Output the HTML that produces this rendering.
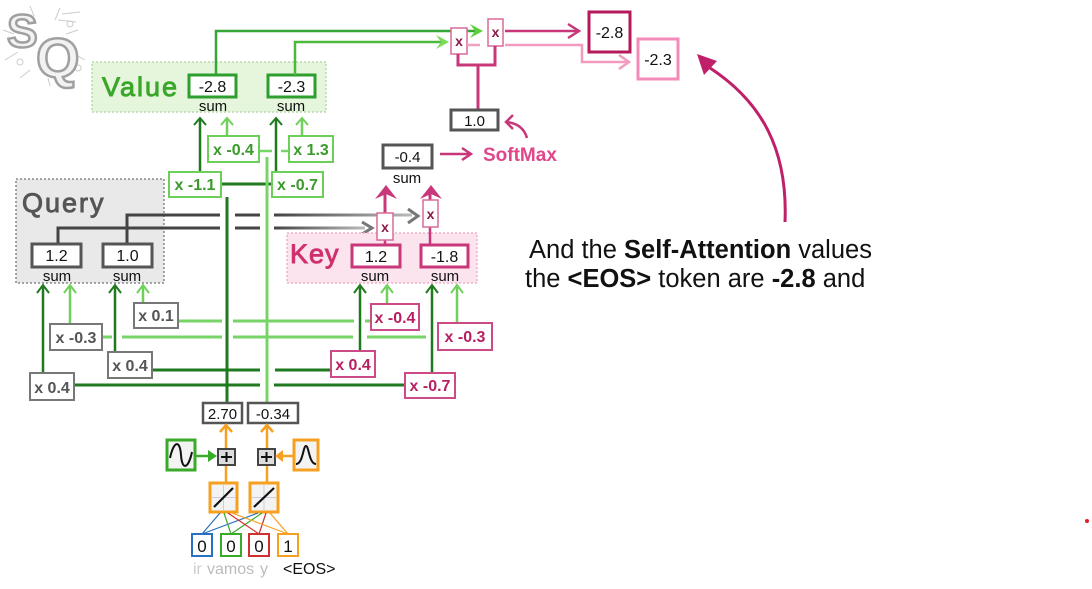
<!DOCTYPE html>
<html><head><meta charset="utf-8"><style>
html,body{margin:0;padding:0;background:#fff;}
svg{display:block;}
text{font-family:"Liberation Sans",Arial,sans-serif;}
</style></head><body>
<svg width="1092" height="589" viewBox="0 0 1092 589" xmlns="http://www.w3.org/2000/svg">
<defs>
<linearGradient id="gf1" gradientUnits="userSpaceOnUse" x1="274" y1="0" x2="412" y2="0"><stop offset="0" stop-color="#444"/><stop offset="1" stop-color="#bbb"/></linearGradient>
<linearGradient id="gf2" gradientUnits="userSpaceOnUse" x1="274" y1="0" x2="365" y2="0"><stop offset="0" stop-color="#444"/><stop offset="1" stop-color="#bbb"/></linearGradient>
<clipPath id="tc"><rect x="500" y="220" width="374" height="80"/></clipPath>
</defs>
<rect width="1092" height="589" fill="#fff"/>

<!-- Logo -->
<g stroke="#ccc" stroke-width="1" fill="none">
<path d="M3,30 L14,34 M5,60 L18,52 M30,6 L34,16 M60,8 L55,20 M78,30 L66,34 M85,60 L78,56 M20,78 L30,70 M50,86 L48,78 M62,14 L80,12 M58,20 L76,22"/>
<circle cx="20" cy="62" r="3"/><circle cx="70" cy="24" r="3"/><circle cx="78" cy="68" r="3"/>
</g>
<text x="7" y="47" font-size="46" font-weight="bold" fill="#f2f2f2" stroke="#a0a0a0" stroke-width="2.5">S</text>
<text x="36" y="77" font-size="56" font-weight="bold" fill="#f2f2f2" stroke="#a0a0a0" stroke-width="2.5">Q</text>

<!-- Value region -->
<rect x="92" y="62" width="234" height="50" fill="#e6f6dd" stroke="#b9d9a9" stroke-width="1.5" stroke-dasharray="2,2"/>
<text x="102" y="96" font-size="27" fill="#3aa62a" stroke="#3aa62a" stroke-width="0.9" letter-spacing="2">Value</text>
<rect x="189" y="75" width="47" height="22" fill="#fff" stroke="#2e9e2e" stroke-width="3"/>
<text x="212.5" y="92" font-size="16" text-anchor="middle" fill="#111">-2.8</text>
<text x="213" y="111" font-size="15" text-anchor="middle" fill="#111">sum</text>
<rect x="268" y="75" width="47" height="22" fill="#fff" stroke="#2e9e2e" stroke-width="3"/>
<text x="291.5" y="92" font-size="16" text-anchor="middle" fill="#111">-2.3</text>
<text x="291" y="111" font-size="15" text-anchor="middle" fill="#111">sum</text>

<!-- green lines to top multipliers -->
<path d="M216,75 V31 H478" stroke="#36a636" stroke-width="2.5" fill="none"/>
<path d="M295,75 V42 H446" stroke="#4cb93c" stroke-width="2.5" fill="none"/>
<polygon points="470,24 483,31 470,38 475,31" fill="#5ccf3c"/>
<polygon points="436,35 449,42 436,49 441,42" fill="#7bdc5c"/>

<!-- top multipliers -->
<rect x="451" y="28" width="16" height="26" fill="#fff" stroke="#d86a9a" stroke-width="1.5"/>
<text x="459" y="46" font-size="14" font-weight="bold" text-anchor="middle" fill="#8b1a4a">x</text>
<rect x="488" y="19" width="15" height="27" fill="#fff" stroke="#d86a9a" stroke-width="1.5"/>
<text x="495.5" y="37" font-size="14" font-weight="bold" text-anchor="middle" fill="#8b1a4a">x</text>
<path d="M467,45 H480" stroke="#f0a0c0" stroke-width="2.5"/>
<path d="M458,54 V65 H495 V46 M478,65 V110" stroke="#c8377a" stroke-width="3" fill="none"/>
<rect x="451" y="110" width="47" height="20" fill="#fff" stroke="#555" stroke-width="3"/>
<text x="474.5" y="126" font-size="15" text-anchor="middle" fill="#111">1.0</text>

<!-- outputs -->
<path d="M505,31 H578" stroke="#c8377a" stroke-width="2.5"/>
<polyline points="568,24 579,31 568,38" stroke="#c8377a" stroke-width="2.5" fill="none"/>
<rect x="589" y="12" width="41" height="40" fill="#fff" stroke="#b5195b" stroke-width="3"/>
<text x="609.5" y="38" font-size="16" text-anchor="middle" fill="#111">-2.8</text>
<path d="M505,45 H582 V62 H628" stroke="#f39ac0" stroke-width="2.5" fill="none"/>
<polyline points="619,55 629,62 619,69" stroke="#f39ac0" stroke-width="2.5" fill="none"/>
<rect x="638" y="39" width="40" height="40" fill="#fff" stroke="#f48ab8" stroke-width="3"/>
<text x="658" y="65" font-size="16" text-anchor="middle" fill="#111">-2.3</text>

<!-- big arrow -->
<path d="M785,222 C788,150 762,102 710,68" stroke="#c0206a" stroke-width="3" fill="none"/>
<polygon points="697,54 717,61 704,75" fill="#c0206a"/>

<!-- SoftMax -->
<rect x="383" y="145" width="49" height="23" fill="#fff" stroke="#555" stroke-width="3"/>
<text x="407.5" y="162" font-size="15" text-anchor="middle" fill="#111">-0.4</text>
<text x="407" y="183" font-size="15" text-anchor="middle" fill="#111">sum</text>
<path d="M440,154 H470" stroke="#c8377a" stroke-width="2.5"/>
<polyline points="462,148 471,154 462,160" stroke="#c8377a" stroke-width="2.5" fill="none"/>
<text x="483" y="161" font-size="19" font-weight="bold" fill="#e0468a">SoftMax</text>
<path d="M527,138 Q523,124 507,122" stroke="#c8377a" stroke-width="2.5" fill="none"/>
<polyline points="513,115 506,122 513,129" stroke="#c8377a" stroke-width="2.5" fill="none"/>

<!-- Value weights -->
<path d="M200,172 V119 M276,172 V119" stroke="#1f7a1f" stroke-width="2.5"/>
<path d="M227,136 V119 M302,136 V119" stroke="#6fd05a" stroke-width="2.5"/>
<polyline points="194,125 200,118 206,125" stroke="#1f7a1f" stroke-width="2" fill="none"/>
<polyline points="270,125 276,118 282,125" stroke="#1f7a1f" stroke-width="2" fill="none"/>
<polyline points="221,125 227,118 233,125" stroke="#6fd05a" stroke-width="2" fill="none"/>
<polyline points="296,125 302,118 308,125" stroke="#6fd05a" stroke-width="2" fill="none"/>
<path d="M259,151 H272 M281,151 H289" stroke="#77d466" stroke-width="2.5"/>
<path d="M221,184 H272" stroke="#1f7a1f" stroke-width="3"/>
<rect x="208" y="136" width="51" height="26" fill="#fff" stroke="#6ccf5a" stroke-width="2"/>
<text x="233.5" y="155" font-size="16" font-weight="bold" text-anchor="middle" fill="#3a9a2a">x -0.4</text>
<rect x="289" y="136" width="44" height="26" fill="#fff" stroke="#6ccf5a" stroke-width="2"/>
<text x="311" y="155" font-size="16" font-weight="bold" text-anchor="middle" fill="#3a9a2a">x 1.3</text>
<rect x="169" y="172" width="52" height="25" fill="#fff" stroke="#6ccf5a" stroke-width="2"/>
<text x="195" y="190" font-size="16" font-weight="bold" text-anchor="middle" fill="#3a9a2a">x -1.1</text>
<rect x="272" y="172" width="51" height="25" fill="#fff" stroke="#6ccf5a" stroke-width="2"/>
<text x="297.5" y="190" font-size="16" font-weight="bold" text-anchor="middle" fill="#3a9a2a">x -0.7</text>

<!-- main verticals -->
<path d="M227,197 V403" stroke="#1f7a1f" stroke-width="3"/>
<path d="M267,157 V403" stroke="#77d466" stroke-width="3"/>

<!-- Query region -->
<rect x="16" y="179" width="148" height="104" fill="#e9e9e9" stroke="#888" stroke-width="1.5" stroke-dasharray="2,2"/>
<text x="22" y="212" font-size="27" fill="#555" stroke="#555" stroke-width="0.9" letter-spacing="2">Query</text>
<path d="M127,244 V215 H220 M235,215 H260" stroke="#444" stroke-width="3" fill="none"/>
<path d="M274,215 H412" stroke="url(#gf1)" stroke-width="3"/>
<polyline points="408,209 418,216 408,223" stroke="#777" stroke-width="3" fill="none"/>
<path d="M58,244 V228 H220 M235,228 H260" stroke="#444" stroke-width="3" fill="none"/>
<path d="M274,228 H365" stroke="url(#gf2)" stroke-width="3"/>
<polyline points="362,222 372,228 362,234" stroke="#777" stroke-width="3" fill="none"/>
<rect x="32" y="244" width="49" height="23" fill="#fff" stroke="#555" stroke-width="3"/>
<text x="56.5" y="261" font-size="16" text-anchor="middle" fill="#111">1.2</text>
<text x="57" y="281" font-size="15" text-anchor="middle" fill="#111">sum</text>
<rect x="103" y="244" width="49" height="23" fill="#fff" stroke="#555" stroke-width="3"/>
<text x="127.5" y="261" font-size="16" text-anchor="middle" fill="#111">1.0</text>
<text x="127" y="281" font-size="15" text-anchor="middle" fill="#111">sum</text>

<!-- Key region -->
<rect x="287" y="233" width="190" height="50" fill="#fbe4ee" stroke="#f0b0c8" stroke-width="1.5" stroke-dasharray="2,2"/>
<text x="290" y="263" font-size="27" fill="#d0306e" stroke="#d0306e" stroke-width="0.9" letter-spacing="1">Key</text>
<path d="M385,240 V245 M430,227 V245" stroke="#c8377a" stroke-width="2.5"/>
<path d="M385,213 V190 M430,200 V190" stroke="#c8377a" stroke-width="3"/>
<polygon points="375,199 386,185 397,199 386,194" fill="#c8377a"/>
<polygon points="420,199 431,185 442,199 431,194" fill="#c8377a"/>
<rect x="377" y="213" width="16" height="27" fill="#fff" stroke="#d86a9a" stroke-width="1.5"/>
<text x="385" y="232" font-size="14" font-weight="bold" text-anchor="middle" fill="#8b1a4a">x</text>
<rect x="423" y="200" width="15" height="27" fill="#fff" stroke="#d86a9a" stroke-width="1.5"/>
<text x="430.5" y="219" font-size="14" font-weight="bold" text-anchor="middle" fill="#8b1a4a">x</text>
<rect x="352" y="245" width="48" height="22" fill="#fff" stroke="#c8377a" stroke-width="3"/>
<text x="376" y="262" font-size="16" text-anchor="middle" fill="#111">1.2</text>
<text x="375" y="281" font-size="15" text-anchor="middle" fill="#111">sum</text>
<rect x="421" y="245" width="47" height="22" fill="#fff" stroke="#c8377a" stroke-width="3"/>
<text x="444.5" y="262" font-size="16" text-anchor="middle" fill="#111">-1.8</text>
<text x="445" y="281" font-size="15" text-anchor="middle" fill="#111">sum</text>

<!-- horizontal weight lines -->
<path d="M178,321 H222 M233,321 H354 M365,321 H371" stroke="#77d466" stroke-width="3"/>
<path d="M102,337 H112 M122,337 H222 M233,337 H353 M367,337 H426" stroke="#77d466" stroke-width="3"/>
<path d="M152,370 H260 M275,370 H331" stroke="#1f7a1f" stroke-width="3"/>
<path d="M74,385 H260 M274,385 H405" stroke="#1f7a1f" stroke-width="3"/>

<!-- Query weight arrows -->
<path d="M43,373 V287 M115,352 V287" stroke="#1f7a1f" stroke-width="2.5"/>
<path d="M70,324 V287 M143,303 V287" stroke="#6fd05a" stroke-width="2.5"/>
<polyline points="37,293 43,285 49,293" stroke="#1f7a1f" stroke-width="2" fill="none"/>
<polyline points="109,293 115,285 121,293" stroke="#1f7a1f" stroke-width="2" fill="none"/>
<polyline points="64,293 70,285 76,293" stroke="#6fd05a" stroke-width="2" fill="none"/>
<polyline points="137,293 143,285 149,293" stroke="#6fd05a" stroke-width="2" fill="none"/>

<!-- Key weight arrows -->
<path d="M360,351 V287 M432,373 V287" stroke="#1f7a1f" stroke-width="2.5"/>
<path d="M387,304 V287 M457,323 V287" stroke="#6fd05a" stroke-width="2.5"/>
<polyline points="354,293 360,285 366,293" stroke="#1f7a1f" stroke-width="2" fill="none"/>
<polyline points="426,293 432,285 438,293" stroke="#1f7a1f" stroke-width="2" fill="none"/>
<polyline points="381,293 387,285 393,293" stroke="#6fd05a" stroke-width="2" fill="none"/>
<polyline points="451,293 457,285 463,293" stroke="#6fd05a" stroke-width="2" fill="none"/>

<!-- Query weight boxes -->
<rect x="134" y="303" width="44" height="25" fill="#fff" stroke="#777" stroke-width="2"/>
<text x="156" y="321" font-size="16" font-weight="bold" text-anchor="middle" fill="#555">x 0.1</text>
<rect x="50" y="324" width="52" height="26" fill="#fff" stroke="#777" stroke-width="2"/>
<text x="76" y="343" font-size="16" font-weight="bold" text-anchor="middle" fill="#555">x -0.3</text>
<rect x="108" y="352" width="44" height="26" fill="#fff" stroke="#777" stroke-width="2"/>
<text x="130" y="371" font-size="16" font-weight="bold" text-anchor="middle" fill="#555">x 0.4</text>
<rect x="30" y="373" width="44" height="27" fill="#fff" stroke="#777" stroke-width="2"/>
<text x="52" y="393" font-size="16" font-weight="bold" text-anchor="middle" fill="#555">x 0.4</text>

<!-- Key weight boxes -->
<rect x="371" y="304" width="48" height="26" fill="#fff" stroke="#cc4a85" stroke-width="2"/>
<text x="395" y="323" font-size="16" font-weight="bold" text-anchor="middle" fill="#b81f60">x -0.4</text>
<rect x="438" y="323" width="54" height="27" fill="#fff" stroke="#cc4a85" stroke-width="2"/>
<text x="465" y="342" font-size="16" font-weight="bold" text-anchor="middle" fill="#b81f60">x -0.3</text>
<rect x="331" y="351" width="44" height="26" fill="#fff" stroke="#cc4a85" stroke-width="2"/>
<text x="353" y="370" font-size="16" font-weight="bold" text-anchor="middle" fill="#b81f60">x 0.4</text>
<rect x="405" y="373" width="50" height="25" fill="#fff" stroke="#cc4a85" stroke-width="2"/>
<text x="430" y="391" font-size="16" font-weight="bold" text-anchor="middle" fill="#b81f60">x -0.7</text>

<!-- bottom encodings -->
<rect x="203" y="403" width="39" height="20" fill="#fff" stroke="#555" stroke-width="2.5"/>
<text x="222.5" y="419" font-size="15" text-anchor="middle" fill="#111">2.70</text>
<rect x="248" y="403" width="50" height="20" fill="#fff" stroke="#555" stroke-width="2.5"/>
<text x="273" y="419" font-size="15" text-anchor="middle" fill="#111">-0.34</text>

<path d="M226,449 V426 M267,449 V426 M226,483 V465 M267,483 V465" stroke="#f5a020" stroke-width="2.5"/>
<polyline points="220,432 226,425 232,432" stroke="#f5a020" stroke-width="2.5" fill="none"/>
<polyline points="261,432 267,425 273,432" stroke="#f5a020" stroke-width="2.5" fill="none"/>

<rect x="218" y="449" width="17" height="16" fill="#ddd" stroke="#444" stroke-width="2"/>
<path d="M221,457 H232 M226.5,452 V462" stroke="#111" stroke-width="2"/>
<rect x="258" y="449" width="17" height="16" fill="#ddd" stroke="#444" stroke-width="2"/>
<path d="M261,457 H272 M266.5,452 V462" stroke="#111" stroke-width="2"/>

<rect x="167" y="440" width="28" height="30" fill="#f3f3f3" stroke="#3aaa2a" stroke-width="3"/>
<path d="M170,458 C174,440 180,440 181,455 C182,470 188,470 192,452" stroke="#111" stroke-width="2" fill="none"/>
<path d="M195,456 H210" stroke="#3aaa2a" stroke-width="2.5"/>
<polygon points="208,450 217,456 208,462" fill="#3aaa2a"/>

<rect x="294" y="440" width="24" height="30" fill="#f3f3f3" stroke="#f5a020" stroke-width="3"/>
<path d="M296,464 C303,464 303,446 306,446 C309,446 309,464 316,464" stroke="#111" stroke-width="2" fill="none"/>
<path d="M294,456 H281" stroke="#f5a020" stroke-width="2.5"/>
<polygon points="283,450 275,456 283,462" fill="#f5a020"/>

<rect x="210" y="483" width="27" height="29" fill="#f3f3f3" stroke="#f5a020" stroke-width="3"/>
<path d="M223.5,485 V510 M212,497.5 H235" stroke="#ccd" stroke-width="1"/>
<path d="M214,507 L233,488" stroke="#111" stroke-width="2.2"/>
<rect x="250" y="483" width="28" height="29" fill="#f3f3f3" stroke="#f5a020" stroke-width="3"/>
<path d="M264,485 V510 M252,497.5 H276" stroke="#ccd" stroke-width="1"/>
<path d="M254,507 L274,488" stroke="#111" stroke-width="2.2"/>

<!-- connections -->
<g stroke-width="1.2" fill="none">
<path d="M202,534 L220,513 M202,534 L258,513" stroke="#2a70c0"/>
<path d="M231,534 L224,513 M231,534 L262,513" stroke="#3aaa2a"/>
<path d="M259,534 L228,513 M259,534 L266,513" stroke="#d03030"/>
<path d="M288,534 L232,513 M288,534 L270,513" stroke="#f5a020"/>
</g>
<rect x="192" y="534" width="20" height="22" fill="#fff" stroke="#2a70c0" stroke-width="2"/>
<text x="202" y="552" font-size="17" text-anchor="middle" fill="#111">0</text>
<rect x="221" y="534" width="20" height="22" fill="#fff" stroke="#3aaa2a" stroke-width="2"/>
<text x="231" y="552" font-size="17" text-anchor="middle" fill="#111">0</text>
<rect x="249" y="534" width="20" height="22" fill="#fff" stroke="#d03030" stroke-width="2"/>
<text x="259" y="552" font-size="17" text-anchor="middle" fill="#111">0</text>
<rect x="278" y="534" width="20" height="22" fill="#fff" stroke="#f5a020" stroke-width="2"/>
<text x="288" y="552" font-size="17" text-anchor="middle" fill="#111">1</text>
<text x="193" y="574" font-size="16" fill="#ccc">ir</text>
<text x="207" y="574" font-size="16" fill="#bbb">vamos</text>
<text x="260" y="574" font-size="16" fill="#bbb">y</text>
<text x="283" y="574" font-size="16" fill="#111">&lt;EOS&gt;</text>

<!-- caption -->
<g clip-path="url(#tc)" font-size="25.5" fill="#111">
<text x="529" y="258">And the <tspan font-weight="bold">Self-Attention</tspan> values</text>
<text x="525" y="287">the <tspan font-weight="bold">&lt;EOS&gt;</tspan> token are <tspan font-weight="bold">-2.8</tspan> and</text>
</g>

<circle cx="1087" cy="521" r="2" fill="#e02020"/>
</svg>
</body></html>
